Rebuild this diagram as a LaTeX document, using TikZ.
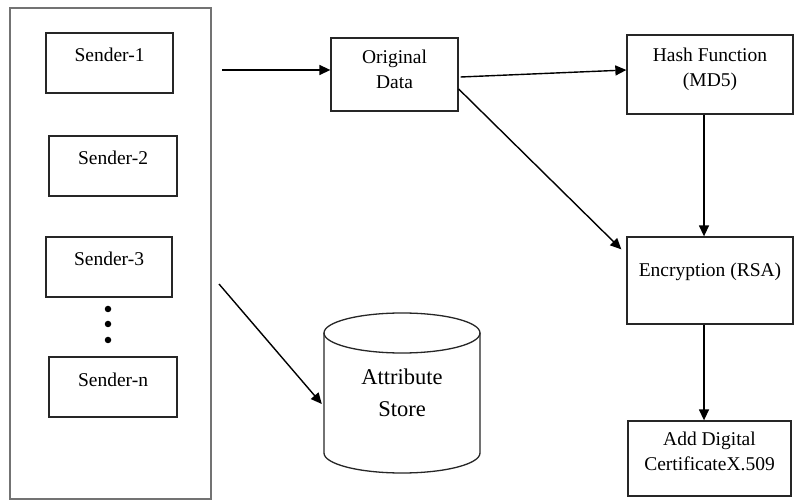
\documentclass[tikz,border=0pt]{standalone}
\usepackage{fontspec}
\setmainfont{Liberation Serif}
\usetikzlibrary{arrows.meta,calc}
\begin{document}
\begin{tikzpicture}[x=1pt,y=-1pt,
  box/.style={draw=black!85,line width=1.3pt,rectangle,inner sep=0pt},
  txt/.style={font=\fontsize{19.5}{25}\selectfont,align=center,inner sep=0pt},
  bigtxt/.style={font=\fontsize{22.5}{32}\selectfont,align=center,inner sep=0pt},
  arr/.style={line width=1.4pt,-{Triangle[length=11pt,width=10pt]}},
  dot/.style={circle,fill=black,inner sep=0pt,minimum size=6.5pt}]
\path[use as bounding box] (0,0) rectangle (795,502);
% sender panel
\node[draw=black!55,line width=1.6pt,minimum width=201pt,minimum height=491pt,inner sep=0pt] (panel) at (110.5,253.5) {};
\node[box,minimum width=127pt,minimum height=60pt] (s1) at (109.5,63) {};
\node[txt] (s1t) at (109.5,55) {Sender-1};
\node[box,minimum width=128pt,minimum height=60pt] (s2) at (113,166) {};
\node[txt] (s2t) at (113,158) {Sender-2};
\node[box,minimum width=126pt,minimum height=60pt] (s3) at (109,267) {};
\node[txt] (s3t) at (109,259) {Sender-3};
\node[dot] (d1) at (108,309) {};
\node[dot] (d2) at (108,324) {};
\node[dot] (d3) at (108,340) {};
\node[box,minimum width=128pt,minimum height=60pt] (sn) at (113,387) {};
\node[txt] (snt) at (113,380) {Sender-n};
% original data
\node[box,minimum width=127pt,minimum height=73pt] (od) at (394.5,74.5) {};
\node[txt] (odt) at (394.5,69.5) {Original\\Data};
% hash
\node[box,minimum width=166pt,minimum height=79pt] (hash) at (710,74.5) {};
\node[txt] (hasht) at (710,69.5) {Hash Function\\(MD5)};
% encryption
\node[box,minimum width=166pt,minimum height=87pt] (enc) at (710,280.5) {};
\node[txt] (enct) at (710,272) {Encryption (RSA)};
% certificate
\node[box,minimum width=163pt,minimum height=75pt] (cert) at (709.5,458.5) {};
\node[txt] (certt) at (709.5,451.5) {Add Digital\\CertificateX.509};
% attribute store cylinder
\node[minimum width=156pt,minimum height=161pt,inner sep=0pt] (store) at (402,392.5) {};
\draw[line width=1.3pt,black!85] (324,333) -- (324,453) arc[start angle=180,end angle=360,x radius=78pt,y radius=20pt] -- (480,333);
\draw[line width=1.3pt,black!85] (402,333) ellipse[x radius=78pt,y radius=20pt];
\node[bigtxt] (storet) at (402,393) {Attribute\\Store};
% connectors
\coordinate (a1) at (222,70);
\coordinate (a6) at (219,284);
\draw[arr] (a1) -- (od.west |- a1);
\draw[arr] ([yshift=-2.5pt,xshift=2pt]od.east) -- ([yshift=4.5pt]hash.west);
\draw[arr] ([yshift=-14.5pt]od.east) -- ([xshift=-5pt,yshift=-13pt]enc.north west);
\draw[arr] ([xshift=-6pt]hash.south) -- ([xshift=-6pt]enc.north);
\draw[arr] ([xshift=-6pt]enc.south) -- ([xshift=-5.5pt]cert.north);
\draw[arr] (a6) -- ([xshift=-2pt,yshift=-11.5pt]store.west);
\end{tikzpicture}
\end{document}
